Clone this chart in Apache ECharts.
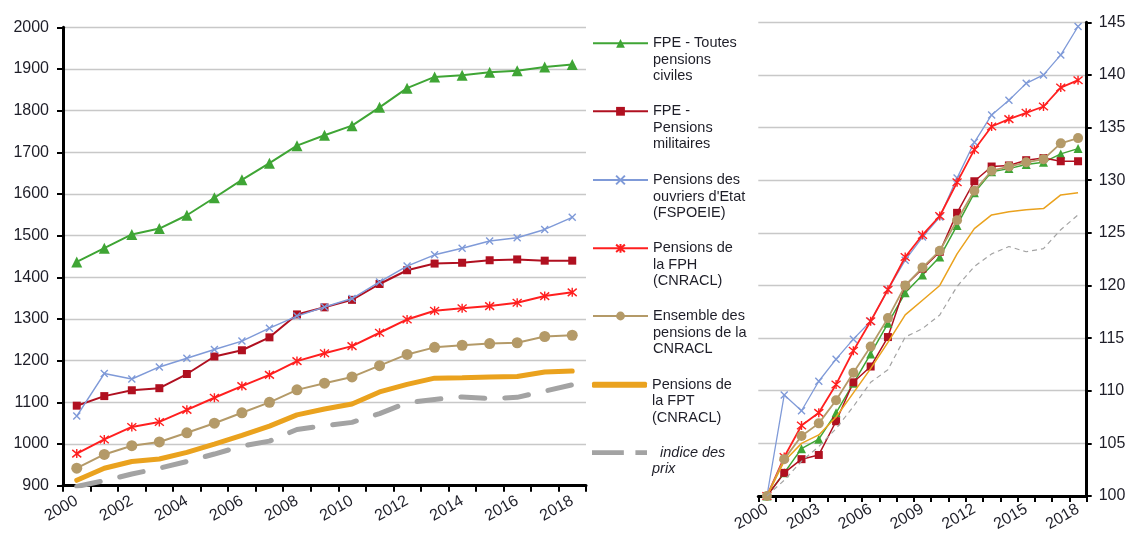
<!DOCTYPE html>
<html><head><meta charset="utf-8">
<script src="https://cdn.jsdelivr.net/npm/echarts@6/dist/echarts.min.js"></script>
<style>html,body{margin:0;padding:0;background:#fff}#c{width:1131px;height:537px}</style>
</head><body><div id="c"></div><script>
// ---- data ----
const years = ['2000','2001','2002','2003','2004','2005','2006','2007','2008','2009','2010','2011','2012','2013','2014','2015','2016','2017','2018'];
const leftTicks = [900,1000,1100,1200,1300,1400,1500,1600,1700,1800,1900,2000];
const rightTicks = [100,105,110,115,120,125,130,135,140,145];

// left chart (levels)
const fpeCiviles     = [1437,1470,1503,1517,1549,1591,1634,1674,1716,1741,1764,1808,1854,1881,1885,1892,1896,1905,1911];
const fpeMilitaires  = [1092,1115,1129,1134,1168,1210,1225,1256,1311,1328,1346,1384,1417,1433,1435,1441,1443,1440,1440];
const ouvriersEtat   = [1067,1169,1156,1185,1206,1227,1247,1278,1307,1329,1349,1389,1427,1454,1470,1487,1495,1515,1544];
const fph            = [977,1011,1041,1053,1082,1111,1139,1166,1199,1218,1235,1267,1299,1320,1326,1331,1339,1355,1364];
const ensembleCnracl = [942,975,996,1005,1027,1050,1075,1100,1130,1146,1161,1188,1215,1232,1237,1241,1243,1258,1261];
const fpt            = [913,942,958,964,980,1000,1021,1043,1070,1084,1096,1125,1143,1158,1159,1161,1162,1173,1175];
const prix           = [898,912,928,942,958,976,995,1007,1035,1044,1052,1073,1099,1107,1113,1109,1112,1127,1142];

// right chart (index base 100 in 2000)
const idxCiviles    = [100,102.2,104.5,105.4,107.9,110.7,113.5,116.4,119.3,121.0,122.7,125.7,128.8,130.8,131.1,131.5,131.7,132.5,133.0];
const idxMilitaires = [100,102.2,103.5,103.9,107.1,110.8,112.3,115.1,120.0,121.6,123.2,126.9,129.9,131.3,131.4,131.9,132.1,131.8,131.8];
const idxOuvriers   = [100,109.6,108.1,110.9,113.0,114.9,116.6,119.6,122.4,124.6,126.5,130.2,133.6,136.2,137.6,139.2,140.0,141.9,144.6];
const idxFph        = [100,103.7,106.7,107.9,110.6,113.8,116.6,119.6,122.7,124.8,126.6,129.8,132.9,135.1,135.8,136.4,137.0,138.8,139.5];
const idxEnsemble   = [100,103.5,105.7,106.9,109.1,111.7,114.2,116.9,120.0,121.7,123.3,126.2,129.0,130.9,131.3,131.7,132.0,133.5,134.0];
const idxFpt        = [100,103.3,105.0,105.8,107.5,109.8,112.1,114.6,117.2,118.6,120.0,123.0,125.4,126.7,127.0,127.2,127.3,128.6,128.8];
const idxPrix       = [100,101.5,103.3,104.7,106.4,108.5,110.8,112.0,115.1,115.9,117.2,119.9,121.8,123.0,123.7,123.2,123.5,125.3,126.7];

const names = ['FPE - Toutes pensions civiles','FPE - Pensions militaires',"Pensions des ouvriers d'Etat (FSPOEIE)",'Pensions de la FPH (CNRACL)','Ensemble des pensions de la CNRACL','Pensions de la FPT (CNRACL)','indice des prix'];
const legendLabels = ['FPE - Toutes\npensions\nciviles','FPE -\nPensions\nmilitaires',"Pensions des\nouvriers d'Etat\n(FSPOEIE)",'Pensions de\nla FPH\n(CNRACL)','Ensemble des\npensions de la\nCNRACL','Pensions de\nla FPT\n(CNRACL)','  indice des\nprix'];

// ---- styling ----
const FONT = '"Liberation Sans", Arial, Helvetica, sans-serif';
const TXT = '#1e1e28';
const colors = ['#3fa535','#b01020','#7f9ad8','#ff1f1f','#b49a68','#eaa21e','#a3a3a3'];
const SYM_X = 'path://M0,0L10,10M10,0L0,10';
const SYM_AST = 'path://M0,1L10,11M10,1L0,11M5,0L5,12';
const symbols = ['triangle','rect',SYM_X,SYM_AST,'circle','none','none'];
const leftSym = [11,8,7,9,11,0,0];
const rightSym = [9,8,7,9,10,0,0];
const leftLW = [2,2,1.5,2,2,5,5];
const rightLW = [1.5,1.5,1.3,1.8,1.8,1.5,1.2];
const leftData = [fpeCiviles,fpeMilitaires,ouvriersEtat,fph,ensembleCnracl,fpt,prix];
const rightData = [idxCiviles,idxMilitaires,idxOuvriers,idxFph,idxEnsemble,idxFpt,idxPrix];

function mkSeries(i, data, axis, sizes, lws) {
  const stroked = (symbols[i] === SYM_X || symbols[i] === SYM_AST);
  const s = {
    name: names[i], type: 'line', data: data,
    xAxisIndex: axis, yAxisIndex: axis,
    symbol: symbols[i], symbolSize: sizes[i],
    showSymbol: symbols[i] !== 'none',
    animation: false, z: 2 + i,
    lineStyle: {color: colors[i], width: lws[i]},
    itemStyle: {color: colors[i]},
    emphasis: {disabled: true}
  };
  if (stroked) s.itemStyle = {color: colors[i], borderColor: colors[i], borderWidth: 1.4};
  if (i === 6) {
    s.lineStyle.type = axis === 0 ? [24, 20] : [5, 4];
    s.lineStyle.cap = axis === 0 ? 'round' : 'butt';
  }
  if (i === 5 && axis === 0) s.lineStyle.cap = 'round';
  if (i === 4 || i === 0) s.z = 3 + i;
  return s;
}

const series = [];
for (let i = 0; i < 7; i++) series.push(mkSeries(i, leftData[i], 0, leftSym, leftLW));
for (let i = 0; i < 7; i++) series.push(mkSeries(i, rightData[i], 1, rightSym, rightLW));

const firstLine = [43.3, 111.3, 180, 248.3, 316, 384.7, 452.7];
const L = 16.5;
const legends = names.map((n, i) => {
  const lines = legendLabels[i].split('\n').length;
  const pad = lines - 1;
  const total = lines + pad;
  const item = {name: n};
  let ih = 11;
  if (i === 5) { item.icon = 'roundRect'; ih = 6; }
  if (i === 6) { item.icon = 'path://M0,0H33V5H0Z M45,0H57V5H45Z'; ih = 5; }
  return {
    data: [item], orient: 'vertical', left: 592, top: firstLine[i] - total * L / 2,
    padding: 0, itemWidth: 55, itemHeight: ih, selectedMode: false,
    textStyle: {fontFamily: FONT, fontSize: 14.5, lineHeight: L, color: TXT, fontStyle: i === 6 ? 'italic' : 'normal'},
    formatter: () => '\n'.repeat(pad) + legendLabels[i]
  };
});

const axisLineStyle = {color: '#000', width: 3};
const plain = v => String(v);
const option = {
  backgroundColor: '#fff',
  animation: false,
  legend: legends,
  grid: [
    {left: 63, top: 27.3, width: 523, height: 458.4},
    {left: 758.3, top: 22.3, width: 328.4, height: 473.7}
  ],
  xAxis: [
    {type: 'category', gridIndex: 0, data: years, boundaryGap: true,
     axisLine: {show: true, lineStyle: axisLineStyle},
     axisTick: {show: true, interval: 0, length: 6, lineStyle: {color: '#000', width: 2}},
     axisLabel: {interval: 1, rotate: 30, margin: 14, fontFamily: FONT, fontSize: 16, color: TXT},
     splitLine: {show: false}},
    {type: 'category', gridIndex: 1, data: years, boundaryGap: true,
     axisLine: {show: true, lineStyle: axisLineStyle},
     axisTick: {show: true, interval: 0, length: 6, lineStyle: {color: '#000', width: 2}},
     axisLabel: {interval: 2, rotate: 30, margin: 12, fontFamily: FONT, fontSize: 16, color: TXT},
     splitLine: {show: false}}
  ],
  yAxis: [
    {type: 'value', gridIndex: 0, min: leftTicks[0], max: leftTicks[leftTicks.length - 1], interval: 100,
     axisLine: {show: true, lineStyle: axisLineStyle},
     axisTick: {show: true, length: 6, lineStyle: {color: '#000', width: 2}},
     axisLabel: {margin: 14, fontFamily: FONT, fontSize: 16, color: TXT, formatter: plain},
     splitLine: {show: true, lineStyle: {color: '#c8c8c8', width: 1.3}}},
    {type: 'value', gridIndex: 1, position: 'right', min: rightTicks[0], max: rightTicks[rightTicks.length - 1], interval: 5,
     axisLine: {show: true, lineStyle: axisLineStyle},
     axisTick: {show: true, length: 5, lineStyle: {color: '#000', width: 2}},
     axisLabel: {margin: 12, fontFamily: FONT, fontSize: 16, color: TXT, formatter: plain},
     splitLine: {show: true, lineStyle: {color: '#c8c8c8', width: 1.3}}}
  ],
  series: series
};
const chart = echarts.init(document.getElementById('c'), null, {renderer: 'canvas'});
chart.setOption(option);
</script></body></html>
